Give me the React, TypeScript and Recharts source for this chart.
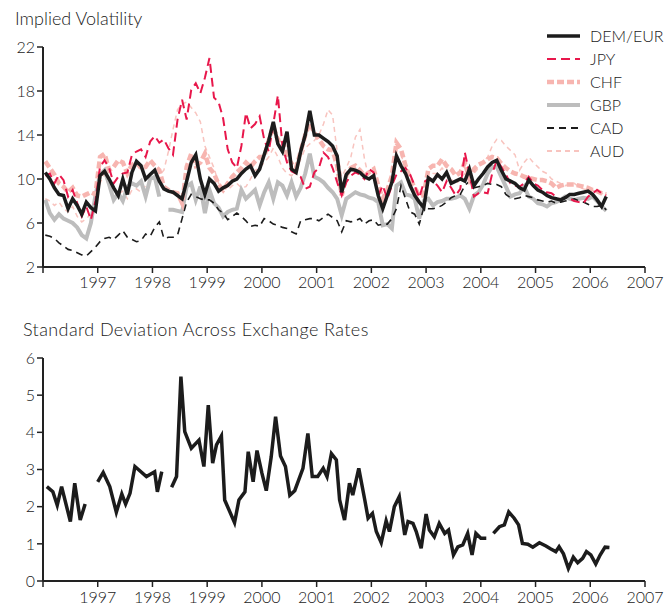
import React from "react";
import { LineChart, Line, XAxis, YAxis } from "recharts";

const FONT = "Lato, 'DejaVu Sans', sans-serif";
const INK = "#222";
const TEXT = "#1a1a1a";

// axis ticks
const yearTicks = [1996, 1997, 1998, 1999, 2000, 2001, 2002, 2003, 2004, 2005, 2006, 2007];
const volTicks = [2, 6, 10, 14, 18, 22];
const sdTicks = [0, 1, 2, 3, 4, 5, 6];

// implied volatility, monthly from Jan 1996 to Apr 2006 (12 values per row = one year)
const demEur = [
  10.6, 10.0, 9.2, 8.6, 8.5, 7.3, 8.2, 7.6, 6.8, 7.9, 7.4, 7.1,
  10.3, 10.7, 10.0, 9.2, 8.5, 10.0, 8.6, 10.6, 11.6, 11.2, 10.0, 10.4,
  10.8, 9.8, 9.1, 8.9, 8.8, 8.5, 8.2, 9.8, 11.5, 12.2, 10.0, 8.6,
  10.0, 9.6, 8.9, 9.2, 9.4, 9.8, 10.0, 10.5, 10.9, 11.2, 10.3, 10.9,
  12.2, 13.5, 15.2, 13.2, 12.5, 14.3, 10.9, 10.6, 12.5, 14.0, 16.2, 14.0,
  14.0, 13.7, 13.4, 13.0, 12.1, 8.8, 10.4, 10.9, 10.8, 10.6, 10.2, 10.0,
  10.3, 8.5, 7.3, 8.5, 9.7, 12.1, 11.2, 10.5, 9.4, 8.5, 7.9, 7.4,
  10.1, 9.8, 10.4, 10.0, 10.6, 9.6, 9.8, 10.0, 9.8, 10.9, 9.4, 10.0,
  10.5, 11.1, 11.5, 11.7, 10.8, 10.0, 9.8, 9.6, 9.2, 9.0, 9.9, 9.4,
  9.0, 8.8, 8.5, 8.3, 8.2, 8.1, 8.3, 8.6, 8.6, 8.7, 8.8, 8.9,
  8.6, 8.1, 7.5, 8.4,
];

const jpy = [
  10.3, 10.5, 9.6, 10.4, 9.9, 8.4, 9.0, 7.8, 6.6, 7.5, 6.3, 8.0,
  11.1, 11.7, 11.0, 9.6, 10.2, 10.5, 10.6, 12.2, 12.5, 12.7, 12.0, 13.4,
  13.9, 13.3, 13.6, 12.8, 12.2, 15.4, 17.2, 15.4, 18.1, 18.7, 17.8, 19.2,
  21.0, 17.4, 17.0, 15.5, 12.7, 11.5, 11.0, 13.0, 16.0, 14.6, 15.0, 15.7,
  13.6, 12.5, 15.0, 17.6, 13.0, 11.5, 10.7, 10.5, 10.2, 9.1, 9.3, 10.6,
  11.0, 12.4, 12.0, 11.0, 9.7, 8.5, 9.7, 10.3, 10.6, 10.4, 10.0, 10.9,
  10.6, 8.5, 9.4, 8.2, 9.4, 10.4, 10.7, 11.0, 10.4, 9.4, 8.3, 9.7,
  10.0, 9.8, 9.4, 8.8, 9.8, 9.2, 8.5, 9.1, 12.4, 10.5, 8.4, 8.7,
  8.8, 8.7, 10.5, 11.7, 11.1, 10.4, 9.6, 9.4, 9.3, 9.6, 10.2, 9.6,
  9.4, 9.0, 8.8, 8.7, 8.4, 8.1, 8.3, 8.2, 8.0, 7.9, 7.8, 8.4,
  8.7, 9.0, 8.7, 8.5,
];

const chf = [
  11.6, 11.0, 10.4, 9.6, 9.3, 8.8, 9.2, 8.5, 8.4, 8.6, 8.8, 8.6,
  12.0, 12.3, 10.8, 11.1, 11.7, 11.5, 10.5, 11.3, 11.5, 11.0, 11.1, 11.7,
  11.2, 10.8, 9.3, 9.0, 8.8, 8.7, 7.8, 11.1, 12.3, 11.2, 11.5, 12.3,
  11.0, 10.5, 9.5, 9.0, 9.6, 10.2, 10.6, 11.0, 11.5, 11.1, 11.6, 12.0,
  12.0, 13.5, 14.8, 13.5, 13.6, 12.0, 11.4, 11.0, 12.5, 14.0, 15.1, 14.2,
  13.6, 13.0, 12.7, 12.6, 11.2, 8.5, 10.3, 11.0, 11.2, 10.8, 10.3, 10.6,
  10.9, 9.4, 8.2, 9.0, 10.3, 13.3, 12.7, 11.2, 10.0, 9.2, 8.5, 8.6,
  10.9, 11.2, 11.2, 11.8, 11.2, 10.9, 10.3, 10.6, 11.5, 10.0, 10.9, 11.3,
  11.5, 11.8, 12.0, 11.9, 11.4, 11.0, 10.7, 10.5, 10.4, 10.2, 10.1, 10.0,
  9.9, 9.9, 9.8, 9.6, 9.2, 9.4, 9.5, 9.5, 9.5, 9.4, 9.3, 9.2,
  9.0, 8.9, 8.7, 8.6,
];

const gbp = [
  8.1, 6.9, 6.3, 6.8, 6.4, 6.2, 6.0, 5.6, 4.9, 4.6, 6.0, 8.5,
  10.4, 10.8, 9.5, 8.1, 8.7, 8.0, 9.3, 9.6, 9.4, 9.8, 8.4, 10.0,
  10.2, 8.4, null, 7.2, 7.2, 7.1, 7.0, 9.3, 9.6, 8.1, 9.3, 6.9,
  9.0, 7.8, 7.4, 6.6, 7.0, 7.2, 7.3, 9.0, 8.2, 8.6, 9.0, 7.6,
  8.8, 9.7, 8.2, 9.7, 9.4, 8.5, 9.7, 8.4, 9.2, 10.5, 12.3, 10.2,
  10.0, 9.7, 9.2, 8.8, 8.2, 6.7, 8.2, 8.5, 8.8, 8.6, 8.5, 8.3,
  8.2, 7.9, 5.8, 5.9, 5.5, 9.4, 9.7, 8.6, 8.5, 8.2, 6.4, 8.0,
  8.2, 7.6, 7.9, 8.0, 8.2, 8.2, 8.3, 8.5, 8.2, 7.3, 8.5, 8.8,
  9.5, 10.5, 11.1, 11.1, 10.2, 9.3, 8.4, 8.6, 8.7, 9.3, 8.4, 8.2,
  7.8, 7.7, 7.5, 7.8, 7.9, 8.1, 8.4, 8.2, 8.1, 8.2, 8.3, 8.2,
  8.4, 8.0, 7.5, 7.1,
];

const cad = [
  4.9, 4.8, 4.6, 4.2, 3.9, 3.6, 3.5, 3.3, 3.1, 3.0, 3.4, 3.8,
  4.3, 4.6, 4.7, 4.5, 4.9, 5.3, 4.7, 4.5, 4.3, 4.4, 5.0, 4.8,
  5.6, 6.1, 4.6, 4.7, 4.7, 4.9, 6.4, 7.9, 8.6, 8.4, 8.2, 8.1,
  8.1, 7.8, 7.2, 6.9, 6.3, 6.6, 6.9, 6.6, 6.2, 5.7, 5.8, 5.7,
  6.4, 6.2, 5.9, 5.8, 5.6, 5.5, 5.2, 5.0, 6.2, 6.3, 6.4, 6.4,
  6.2, 6.5, 6.8, 6.5, 6.2, 5.2, 6.2, 6.1, 6.2, 6.4, 5.9, 6.2,
  6.3, 5.8, 5.9, 5.9, 6.4, 7.3, 9.4, 8.2, 7.0, 6.8, 5.9, 7.4,
  7.3, 7.3, 7.4, 7.6, 7.9, 8.3, 8.5, 8.6, 9.4, 9.8, 9.2, 9.3,
  9.4, 9.6, 9.5, 9.5, 9.3, 8.6, 8.3, 8.2, 8.3, 8.5, 8.4, 8.3,
  8.1, 8.0, 7.9, 8.0, 7.8, 7.9, 8.0, 8.1, 8.2, 8.0, 7.9, 7.7,
  7.5, 7.5, 7.6, 7.2,
];

const aud = [
  8.2, 8.0, 7.6, 7.9, 7.3, 7.0, 7.5, 6.6, 6.1, 6.4, 6.8, 7.6,
  9.6, 10.5, 9.2, 8.3, 8.6, 8.9, 8.2, 9.0, 9.1, 8.8, 9.4, 9.9,
  10.0, 10.3, 10.8, 12.5, 14.5, 16.3, 16.8, 17.0, 16.5, 16.0, 15.2, 13.0,
  12.0, 11.0, 9.6, 9.2, 9.0, 9.4, 9.6, 9.2, 9.3, 10.0, 10.8, 11.0,
  11.5, 12.0, 12.8, 12.0, 11.0, 10.5, 10.3, 10.8, 11.8, 12.8, 13.2, 13.5,
  14.0, 15.0, 16.3, 15.8, 12.5, 10.2, 11.0, 12.0, 13.8, 14.5, 11.8, 10.0,
  10.2, 9.0, 8.0, 8.8, 9.8, 12.0, 12.2, 11.0, 10.0, 9.0, 8.0, 8.5,
  10.0, 10.5, 10.5, 11.0, 10.5, 10.0, 9.5, 10.0, 10.5, 10.0, 10.5, 11.0,
  11.5, 12.0, 13.0, 13.6, 13.5, 13.0, 12.6, 12.2, 10.8, 11.5, 12.0, 11.5,
  11.1, 10.7, 10.5, 10.0, 9.8, 9.6, 9.4, 9.5, 9.6, 9.3, 9.1, 9.0,
  9.0, 8.8, 8.7, 8.6,
];

// standard deviation across exchange rates (null = gap in the line)
const sdTime = [
  1996.07, 1996.18, 1996.26, 1996.34, 1996.5, 1996.58, 1996.68, 1996.77, 1996.88,
  1997.0, 1997.1, 1997.22, 1997.34, 1997.44, 1997.51, 1997.59, 1997.68, 1997.89,
  1998.04, 1998.09, 1998.17, 1998.26, 1998.35, 1998.44, 1998.52, 1998.59, 1998.71,
  1998.85, 1998.94, 1999.02, 1999.1, 1999.17, 1999.26, 1999.32, 1999.5, 1999.58,
  1999.69, 1999.75, 1999.84, 1999.91, 2000.0, 2000.08, 2000.17, 2000.25, 2000.34,
  2000.43, 2000.51, 2000.6, 2000.75, 2000.84, 2000.92, 2001.02, 2001.12, 2001.19,
  2001.27, 2001.36, 2001.42, 2001.51, 2001.6, 2001.66, 2001.77, 2001.88, 2001.94,
  2002.02, 2002.09, 2002.18, 2002.27, 2002.33, 2002.42, 2002.51, 2002.61, 2002.67,
  2002.76, 2002.82, 2002.91, 2003.0, 2003.06, 2003.15, 2003.24, 2003.34, 2003.41,
  2003.5, 2003.58, 2003.67, 2003.76, 2003.84, 2003.91, 2004.0, 2004.1, 2004.17,
  2004.23, 2004.34, 2004.43, 2004.51, 2004.61, 2004.69, 2004.76, 2004.86, 2004.95,
  2005.07, 2005.19, 2005.28, 2005.37, 2005.43, 2005.51, 2005.6, 2005.69, 2005.77,
  2005.86, 2005.93, 2006.01, 2006.1, 2006.18, 2006.27, 2006.35,
];
const sdValue = [
  2.54, 2.4, 2.04, 2.54, 1.6, 2.63, 1.64, 2.07, null,
  2.67, 2.92, 2.54, 1.85, 2.34, 2.07, 2.36, 3.08, 2.81,
  2.94, 2.4, 2.94, null, 2.52, 2.81, 5.5, 4.02, 3.57,
  3.79, 3.08, 4.73, 3.17, 3.66, 3.9, 2.18, 1.57, 2.18,
  2.4, 3.48, 2.67, 3.51, 2.9, 2.43, 3.34, 4.42, 3.36,
  3.08, 2.31, 2.43, 3.03, 3.97, 2.81, 2.81, 3.03, 2.81,
  3.43, 3.26, 2.18, 1.64, 2.63, 2.31, 3.03, 2.18, 1.69,
  1.82, 1.33, 1.03, 1.62, 1.33, 2.0, 2.27, 1.24, 1.6,
  1.55, 1.33, 0.88, 1.8, 1.37, 1.19, 1.55, 1.28, 1.37,
  0.7, 0.92, 0.97, 1.28, 0.7, 1.28, 1.15, 1.15, null,
  1.28, 1.46, 1.51, 1.86, 1.69, 1.51, 1.01, 0.99, 0.91,
  1.03, 0.94, 0.86, 0.79, 0.92, 0.73, 0.34, 0.64, 0.49,
  0.61, 0.79, 0.7, 0.46, 0.7, 0.91, 0.9,
];

const monthTime = demEur.map((_, i) => 1996 + (i + 0.5) / 12);
const volData = monthTime.map((t, i) => ({
  t,
  dem: demEur[i],
  jpy: jpy[i],
  chf: chf[i],
  gbp: gbp[i],
  cad: cad[i],
  aud: aud[i],
}));
const sdData = sdTime.map((t, i) => ({ t, sd: sdValue[i] }));

// drawing order: bottom first
const volSeries = [
  { key: "aud", name: "AUD", color: "#f8c4bf", width: 1.5, dash: "5 4" },
  { key: "gbp", name: "GBP", color: "#bdbdbd", width: 4, dash: undefined },
  { key: "cad", name: "CAD", color: "#1c1c1c", width: 1.6, dash: "7 5" },
  { key: "chf", name: "CHF", color: "#f7b5b0", width: 4.5, dash: "7 3" },
  { key: "jpy", name: "JPY", color: "#e8174b", width: 2, dash: "9 5" },
  { key: "dem", name: "DEM/EUR", color: "#1c1c1c", width: 3.5, dash: undefined },
];
const legendOrder = ["dem", "jpy", "chf", "gbp", "cad", "aud"];

const tickStyle = { fill: TEXT, fontSize: 16, fontFamily: FONT, fontWeight: 300 };
const axisLine = { stroke: INK, strokeWidth: 2 };
const tickLine = { stroke: INK, strokeWidth: 1.5 };

const yearLabel = (v: number) => (v === 1996 ? "" : String(v));

const titleStyle: React.CSSProperties = {
  position: "absolute",
  fontFamily: FONT,
  fontSize: 18,
  fontWeight: 300,
  color: TEXT,
  whiteSpace: "nowrap",
  lineHeight: "20px",
};

function VolLegend() {
  return (
    <div
      style={{
        position: "absolute",
        left: 545,
        top: 24,
        fontFamily: FONT,
        fontSize: 16,
        fontWeight: 300,
        color: TEXT,
        whiteSpace: "nowrap",
      }}
    >
      {legendOrder.map((k) => {
        const s = volSeries.find((x) => x.key === k)!;
        return (
          <div key={k} style={{ display: "flex", alignItems: "center", height: 23 }}>
            <svg width={36} height={10}>
              <line x1={2} y1={5} x2={35} y2={5} stroke={s.color} strokeWidth={Math.max(s.width, 2)} strokeDasharray={s.dash} />
            </svg>
            <span style={{ marginLeft: 9 }}>{s.name}</span>
          </div>
        );
      })}
    </div>
  );
}

export default function App() {
  return (
    <div style={{ position: "absolute", left: 0, top: 0, width: 666, height: 609, background: "#fff" }}>
      <div style={{ ...titleStyle, left: 15, top: 8 }}>Implied Volatility</div>
      <div style={{ position: "absolute", left: 0, top: 0 }}>
        <LineChart width={666} height={300} data={volData} margin={{ top: 47, right: 21, bottom: 3, left: 0 }}>
          <XAxis
            dataKey="t"
            type="number"
            domain={[1996, 2007]}
            ticks={yearTicks}
            tickFormatter={yearLabel}
            height={30}
            interval={0}
            tickMargin={4}
            axisLine={axisLine}
            tickLine={tickLine}
            tick={tickStyle}
          />
          <YAxis
            domain={[2, 22]}
            ticks={volTicks}
            width={43}
            interval={0}
            axisLine={axisLine}
            tickLine={tickLine}
            tick={tickStyle}
          />
          {volSeries.map((s) => (
            <Line
              key={s.key}
              type="linear"
              dataKey={s.key}
              name={s.name}
              stroke={s.color}
              strokeWidth={s.width}
              strokeDasharray={s.dash}
              dot={false}
              activeDot={false}
              isAnimationActive={false}
            />
          ))}
        </LineChart>
      </div>
      <VolLegend />

      <div style={{ ...titleStyle, left: 23, top: 319, letterSpacing: 0.4 }}>
        Standard Deviation Across Exchange Rates
      </div>
      <div style={{ position: "absolute", left: 0, top: 310 }}>
        <LineChart width={666} height={299} data={sdData} margin={{ top: 48, right: 21, bottom: 0, left: 0 }}>
          <XAxis
            dataKey="t"
            type="number"
            domain={[1996, 2007]}
            ticks={yearTicks}
            tickFormatter={yearLabel}
            height={28}
            interval={0}
            tickMargin={5}
            axisLine={axisLine}
            tickLine={tickLine}
            tick={tickStyle}
          />
          <YAxis
            domain={[0, 6]}
            ticks={sdTicks}
            width={43}
            interval={0}
            axisLine={axisLine}
            tickLine={tickLine}
            tick={tickStyle}
          />
          <Line
            type="linear"
            dataKey="sd"
            stroke="#1c1c1c"
            strokeWidth={3.5}
            dot={false}
            activeDot={false}
            isAnimationActive={false}
          />
        </LineChart>
      </div>
    </div>
  );
}
